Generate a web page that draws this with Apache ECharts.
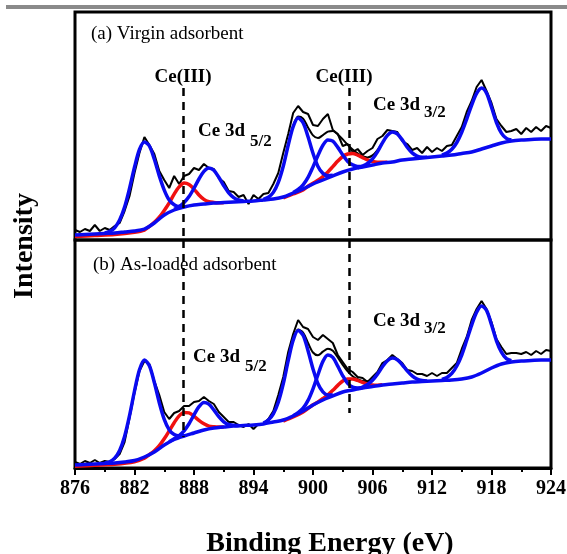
<!DOCTYPE html>
<html>
<head>
<meta charset="utf-8">
<script src="https://cdn.jsdelivr.net/npm/echarts@6/dist/echarts.min.js"></script>
<style>
html,body{margin:0;padding:0;background:#fff;}
#chart{width:567px;height:554px;}
</style>
</head>
<body>
<div id="chart"></div>
<script>
// ---------- DATA (binding energy in eV, intensity in arbitrary units) ----------
const energies = [876,876.5,877,877.5,878,878.5,879,879.5,880,880.5,
881,881.5,882,882.5,883,883.5,884,884.5,885,885.5,
886,886.5,887,887.5,888,888.5,889,889.5,890,890.5,
891,891.5,892,892.5,893,893.5,894,894.5,895,895.5,
896,896.5,897,897.5,898,898.5,899,899.5,900,900.5,
901,901.5,902,902.5,903,903.5,904,904.5,905,905.5,
906,906.5,907,907.5,908,908.5,909,909.5,910,910.5,
911,911.5,912,912.5,913,913.5,914,914.5,915,915.5,
916,916.5,917,917.5,918,918.5,919,919.5,920,920.5,
921,921.5,922,922.5,923,923.5,924];

// (a) Virgin adsorbent - measured spectrum
const rawA = [10,8,11,9,15,9,12,10,14,17,
29,44,67,87,103,95,86,69,60,52,
64,56,64,66,72,70,76,72,71,62,
58,49,48,43,45,36,45,41,46,47,
56,67,87,106,127,134,128,126,115,114,
121,126,110,106,94,96,88,91,85,89,
92,101,104,110,109,108,99,96,90,92,
87,93,88,92,89,94,95,104,113,128,
139,153,160,149,137,121,114,108,109,111,
106,112,108,113,109,114,112];

// (b) As-loaded adsorbent - measured spectrum
const rawB = [6,4,7,5,8,5,7,6,9,14,
26,50,75,97,107,104,87,73,56,49,
55,57,62,62,66,67,71,67,64,56,
51,46,46,43,41,44,39,44,44,49,
57,73,91,116,134,148,141,139,131,128,
133,129,125,113,106,99,96,91,90,86,
91,96,105,108,113,109,105,98,97,94,
94,92,95,92,95,95,100,105,119,131,
148,159,167,159,146,129,121,114,115,115,
114,116,113,117,114,118,117];

// fitted envelopes (overlap region of the Ce 3d 3/2 Ce(IV)/Ce(III) peaks)
const envA = [[896,47.6],[896.5,57.6],[897,73.8],[897.5,94.9],[898,113.8],[898.5,123.5],[899,121.4],[899.5,112.6],[900,104.6],[900.5,101.9],[901,104.9],[901.5,108.4],[902,108.9],[902.5,105.5],[903,100.6],[903.5,95.1],[904,90.6],[904.5,86.6],[905,83.7],[905.5,82.6],[906,84.6],[906.5,89.9],[907,97.5]];
const envB = [[896,54.2],[896.5,65.8],[897,84.2],[897.5,107.5],[898,127.9],[898.5,138.4],[899,135.5],[899.5,125],[900,115.5],[900.5,112.7],[901,116.3],[901.5,119.2],[902,117.2],[902.5,110.6],[903,103.2],[903.5,96.6],[904,91.8],[904.5,88.8],[905,86.9],[905.5,86.7],[906,89.2],[906.5,94.5],[907,101.4]];

// backgrounds
const bgA = [[876,5],[877,5.5],[878,6],[879,6.5],[880,7],[881,8],[882,9],[883,11],[884,17],[885,25],[886,30],[887,33],[888,35],[889,36],[890,37],[891,37.5],[892,38],[893,38.5],[894,39],[895,40],[896,41],[897,43],[898,47],[899,51],[900,56],[901,60],[902,64],[903,68],[904,71],[905,73],[906,75],[907,77],[908,78],[909,80],[910,81],[911,82],[912,83],[913,84],[914,85],[915,86.5],[916,88],[917,91],[918,94],[919,97],[920,99],[921,100],[922,100.5],[923,101],[924,101]];
const bgB = [[876,3],[877,3.5],[878,4],[879,4.5],[880,5],[881,6],[882,7.5],[883,11],[884,16],[885,23],[886,28.5],[887,32],[888,35],[889,38],[890,40],[891,41],[892,42],[893,42.5],[894,43],[895,44],[896,46],[897,48],[898,52],[899,57],[900,63],[901,68],[902,72],[903,76],[904,78],[905,80],[906,81.5],[907,83],[908,84],[909,85],[910,86],[911,86.5],[912,87],[913,87.5],[914,88],[915,89],[916,91],[917,95],[918,100],[919,104],[920,106],[921,107],[922,107.5],[923,108],[924,108]];

// (a) fitted components
const ce4A1 = [[879,7.1],[879.5,8.6],[880,12.2],[880.5,19.9],[881,32.9],[881.5,51.6],[882,72.7],[882.5,90.5],[883,98],[883.5,94],[884,80.7],[884.5,64.1],[885,49.9],[885.5,39.9],[886,35.2],[886.5,33.4],[887,33.6]];
const ce3A1 = [[876,3.5],[878,4.5],[880,5.5],[882,7.8],[883,10],[883.5,13.6],[884,17.6],[884.5,22.8],[885,29.6],[885.5,37],[886,45.9],[886.5,53.1],[887,57],[887.5,55.6],[888,50.9],[888.5,45],[889,40.6],[889.5,38.3],[890,37.6],[890.5,37.3],[891,37.2]];
const ce4A2 = [[886,30.6],[886.5,33.3],[887,37.4],[887.5,43.4],[888,51.8],[888.5,61],[889,68.7],[889.5,72],[890,69.7],[890.5,62.7],[891,54.3],[891.5,47.1],[892,42.4],[892.5,40],[893,39.1]];
const ce4A3 = [[895,40.7],[895.5,42.8],[896,47.6],[896.5,57.6],[897,73.7],[897.5,94.7],[898,113.3],[898.5,122],[899,117.3],[899.5,103.2],[900,86.7],[900.5,73.6],[901,66.6],[901.5,64.3],[902,64.7]];
const ce4A4 = [[898,47.5],[898.5,50.5],[899,55.1],[899.5,62.6],[900,73.1],[900.5,84.6],[901,94.8],[901.5,100],[902,98.8],[902.5,92.6],[903,85.1],[903.5,78.6],[904,75.1],[904.5,73.5],[905,73.5]];
const ce3A2 = [[897,42],[898,46],[899,50],[899.5,53.8],[900,56.8],[900.5,59.7],[901,63.5],[901.5,68.1],[902,73.4],[902.5,78.9],[903,83.5],[903.5,86],[904,86.5],[904.5,84.9],[905,82.4],[905.5,80.1],[906,78.5],[906.5,77.7],[907,77.8],[907.5,77.8]];
const ce4A5 = [[904.5,72.2],[905,73.8],[905.5,76.5],[906,81.1],[906.5,88.2],[907,97.1],[907.5,104.6],[908,108],[908.5,106.1],[909,100.1],[909.5,92.7],[910,87.1],[910.5,84],[911,82.8],[911.5,82.7]];
const ce4A6 = [[913,84.9],[913.5,86.9],[914,90.7],[914.5,97.5],[915,107.8],[915.5,120.9],[916,134.9],[916.5,146.6],[917,152],[917.5,146.9],[918,132.7],[918.5,117.5],[919,106.9],[919.5,101.6],[920,100]];

// (b) fitted components
const ce4B1 = [[879,5],[879.5,6.3],[880,9.9],[880.5,17.6],[881,31.6],[881.5,52.5],[882,77],[882.5,98.2],[883,108],[883.5,102.2],[884,85.5],[884.5,65.3],[885,48.6],[885.5,38.1],[886,33.4],[886.5,32.1],[887,32.5]];
const ce3B1 = [[876,1.8],[878,2.8],[880,3.8],[882,6.3],[883,9.8],[883.5,13.4],[884,17.2],[884.5,22.4],[885,29.2],[885.5,37.1],[886,45.3],[886.5,52.1],[887,55.5],[887.5,55.1],[888,51.8],[888.5,47.6],[889,44.2],[889.5,41.9],[890,41.2],[890.5,40.9],[891,40.9]];
const ce4B2 = [[885.5,26.2],[886,29.2],[886.5,32.5],[887,37.2],[887.5,44.3],[888,53.1],[888.5,61.3],[889,65.5],[889.5,63.8],[890,58.1],[890.5,51.3],[891,46.2],[891.5,43.5],[892,42.7],[892.5,42.4]];
const ce4B3 = [[895,44.9],[895.5,48],[896,54.2],[896.5,65.8],[897,84.1],[897.5,107.3],[898,127.7],[898.5,137.5],[899,132.7],[899.5,117.3],[900,99.1],[900.5,84.3],[901,76.2],[901.5,73],[902,72.9]];
const ce4B4 = [[898,52.2],[898.5,55.4],[899,59.8],[899.5,67.6],[900,79.2],[900.5,93.3],[901,106.6],[901.5,113],[902,110.6],[902.5,101.8],[903,92.2],[903.5,84.6],[904,80.8],[904.5,79.9],[905,80.2]];
const ce3B2 = [[897,47],[898,51],[899,56],[900,63.2],[900.5,66.1],[901,69.5],[901.5,73.2],[902,77.7],[902.5,82.6],[903,87],[903.5,89],[904,89],[904.5,87.6],[905,85.7],[905.5,83.9],[906,83],[906.5,82.8],[907,83.2]];
const ce4B5 = [[904.5,79.3],[905,81],[905.5,83.5],[906,87.7],[906.5,93.9],[907,101.2],[907.5,107.3],[908,110],[908.5,108.3],[909,103.2],[909.5,97.2],[910,92.2],[910.5,89],[911,87.5],[911.5,87]];
const ce4B6 = [[913,88.6],[913.5,90.6],[914,94.6],[914.5,102],[915,113],[915.5,127.7],[916,142.9],[916.5,155.8],[917,162],[917.5,157.6],[918,143.3],[918.5,127.2],[919,115.8],[919.5,109.4],[920,107.3]];

// Ce(III) marker positions (eV) and dashed-line extents (intensity units)
const ce3Markers = [886.9, 903.7];
const dashTopA = 152;
const dashEndB = [31, 55];

// ---------- CHART ----------
const SERIF = '"Liberation Serif","Times New Roman",serif';
const BLUE = '#0a0af0', RED = '#f01010';
const chart = echarts.init(document.getElementById('chart'), null, {renderer: 'canvas'});

function zip(xs, ys) { return xs.map((x, i) => [x, ys[i]]); }
function raw(data, gi) {
  return {type: 'line', xAxisIndex: gi, yAxisIndex: gi, data: data, symbol: 'none',
    lineStyle: {color: '#000', width: 2}, z: 2, silent: true};
}
function env(data, gi) {
  return {type: 'line', xAxisIndex: gi, yAxisIndex: gi, data: data, symbol: 'none', smooth: 0.3,
    lineStyle: {color: '#000', width: 2}, z: 2, silent: true};
}
function comp(data, gi, color, smooth) {
  return {type: 'line', xAxisIndex: gi, yAxisIndex: gi, data: data, symbol: 'none',
    smooth: smooth, lineStyle: {color: color, width: 3.5}, z: 3, silent: true};
}
function dashSeries(gi, pairs) {
  return {type: 'line', xAxisIndex: gi, yAxisIndex: gi, data: [], z: 5, silent: true,
    markLine: {silent: true, symbol: ['none', 'none'], label: {show: false}, animation: false,
      lineStyle: {color: '#000', width: 2.5, type: [8, 6]},
      data: pairs.map(p => [{coord: [p[0], p[1]]}, {coord: [p[0], p[2]]}])}};
}

const hiddenX = gi => ({type: 'value', gridIndex: gi, min: 876, max: 924, interval: 6,
  axisLine: {show: false}, axisTick: {show: false}, axisLabel: {show: false}, splitLine: {show: false}});

const option = {
  animation: false,
  backgroundColor: '#fff',
  grid: [
    {left: 75, width: 476, top: 12, height: 228, show: true, borderColor: '#000', borderWidth: 3,
      containLabel: false, outerBoundsMode: 'none'},
    {left: 75, width: 476, top: 240, height: 228, show: true, borderColor: '#000', borderWidth: 3,
      containLabel: false, outerBoundsMode: 'none'}
  ],
  xAxis: [
    hiddenX(0),
    {type: 'value', gridIndex: 1, min: 876, max: 924, interval: 6,
      axisLine: {show: true, onZero: false, lineStyle: {color: '#000', width: 3}},
      axisTick: {show: true, inside: false, length: 7, lineStyle: {color: '#000', width: 2}},
      minorTick: {show: true, splitNumber: 2, length: 4, lineStyle: {color: '#000', width: 2}},
      axisLabel: {show: true, color: '#000', fontSize: 20, fontWeight: 'bold', fontFamily: SERIF, margin: 11},
      splitLine: {show: false}}
  ],
  yAxis: [
    {type: 'value', gridIndex: 0, min: 0, max: 228, show: false},
    {type: 'value', gridIndex: 1, min: 0, max: 228, show: false}
  ],
  series: [
    raw(zip(energies, rawA), 0), env(envA, 0),
    comp(ce3A1, 0, RED, 0.3), comp(ce3A2, 0, RED, 0.3),
    comp(bgA, 0, BLUE, 0.3),
    comp(ce4A1, 0, BLUE, 0.3), comp(ce4A2, 0, BLUE, 0.3), comp(ce4A3, 0, BLUE, 0.3),
    comp(ce4A4, 0, BLUE, 0.3), comp(ce4A5, 0, BLUE, 0.3), comp(ce4A6, 0, BLUE, 0.3),
    dashSeries(0, [[ce3Markers[0], dashTopA, 0], [ce3Markers[1], dashTopA, 0]]),

    raw(zip(energies, rawB), 1), env(envB, 1),
    comp(ce3B1, 1, RED, 0.3), comp(ce3B2, 1, RED, 0.3),
    comp(bgB, 1, BLUE, 0.3),
    comp(ce4B1, 1, BLUE, 0.3), comp(ce4B2, 1, BLUE, 0.3), comp(ce4B3, 1, BLUE, 0.3),
    comp(ce4B4, 1, BLUE, 0.3), comp(ce4B5, 1, BLUE, 0.3), comp(ce4B6, 1, BLUE, 0.3),
    dashSeries(1, [[ce3Markers[0], 228, dashEndB[0]], [ce3Markers[1], 228, dashEndB[1]]])
  ],
  graphic: [
    {type: 'rect', left: 6, top: 5, shape: {width: 561, height: 4}, style: {fill: '#8a8a8a'}, silent: true},
    {type: 'text', x: 91, y: 34, style: {text: '(a) Virgin adsorbent', font: '19px ' + SERIF, fill: '#000', textVerticalAlign: 'middle'}},
    {type: 'text', x: 183, y: 77, style: {text: 'Ce(III)', font: 'bold 19px ' + SERIF, fill: '#000', textAlign: 'center', textVerticalAlign: 'middle'}},
    {type: 'text', x: 344, y: 77, style: {text: 'Ce(III)', font: 'bold 19px ' + SERIF, fill: '#000', textAlign: 'center', textVerticalAlign: 'middle'}},
    {type: 'text', x: 198, y: 131, style: {text: 'Ce 3d', font: 'bold 19px ' + SERIF, fill: '#000', textVerticalAlign: 'middle'}},
    {type: 'text', x: 250, y: 142, style: {text: '5/2', font: 'bold 17px ' + SERIF, fill: '#000', textVerticalAlign: 'middle'}},
    {type: 'text', x: 373, y: 105, style: {text: 'Ce 3d', font: 'bold 19px ' + SERIF, fill: '#000', textVerticalAlign: 'middle'}},
    {type: 'text', x: 424, y: 113, style: {text: '3/2', font: 'bold 17px ' + SERIF, fill: '#000', textVerticalAlign: 'middle'}},
    {type: 'text', x: 93, y: 265, style: {text: '(b) As-loaded adsorbent', font: '19px ' + SERIF, fill: '#000', textVerticalAlign: 'middle'}},
    {type: 'text', x: 193, y: 357, style: {text: 'Ce 3d', font: 'bold 19px ' + SERIF, fill: '#000', textVerticalAlign: 'middle'}},
    {type: 'text', x: 245, y: 367, style: {text: '5/2', font: 'bold 17px ' + SERIF, fill: '#000', textVerticalAlign: 'middle'}},
    {type: 'text', x: 373, y: 321, style: {text: 'Ce 3d', font: 'bold 19px ' + SERIF, fill: '#000', textVerticalAlign: 'middle'}},
    {type: 'text', x: 424, y: 329, style: {text: '3/2', font: 'bold 17px ' + SERIF, fill: '#000', textVerticalAlign: 'middle'}},
    {type: 'text', x: 25, y: 246, rotation: Math.PI / 2, style: {text: 'Intensity', font: 'bold 28px ' + SERIF, fill: '#000', textAlign: 'center', textVerticalAlign: 'middle'}},
    {type: 'text', x: 330, y: 544, style: {text: 'Binding Energy (eV)', font: 'bold 28px ' + SERIF, fill: '#000', textAlign: 'center', textVerticalAlign: 'middle'}}
  ]
};
chart.setOption(option);
</script>
</body>
</html>
